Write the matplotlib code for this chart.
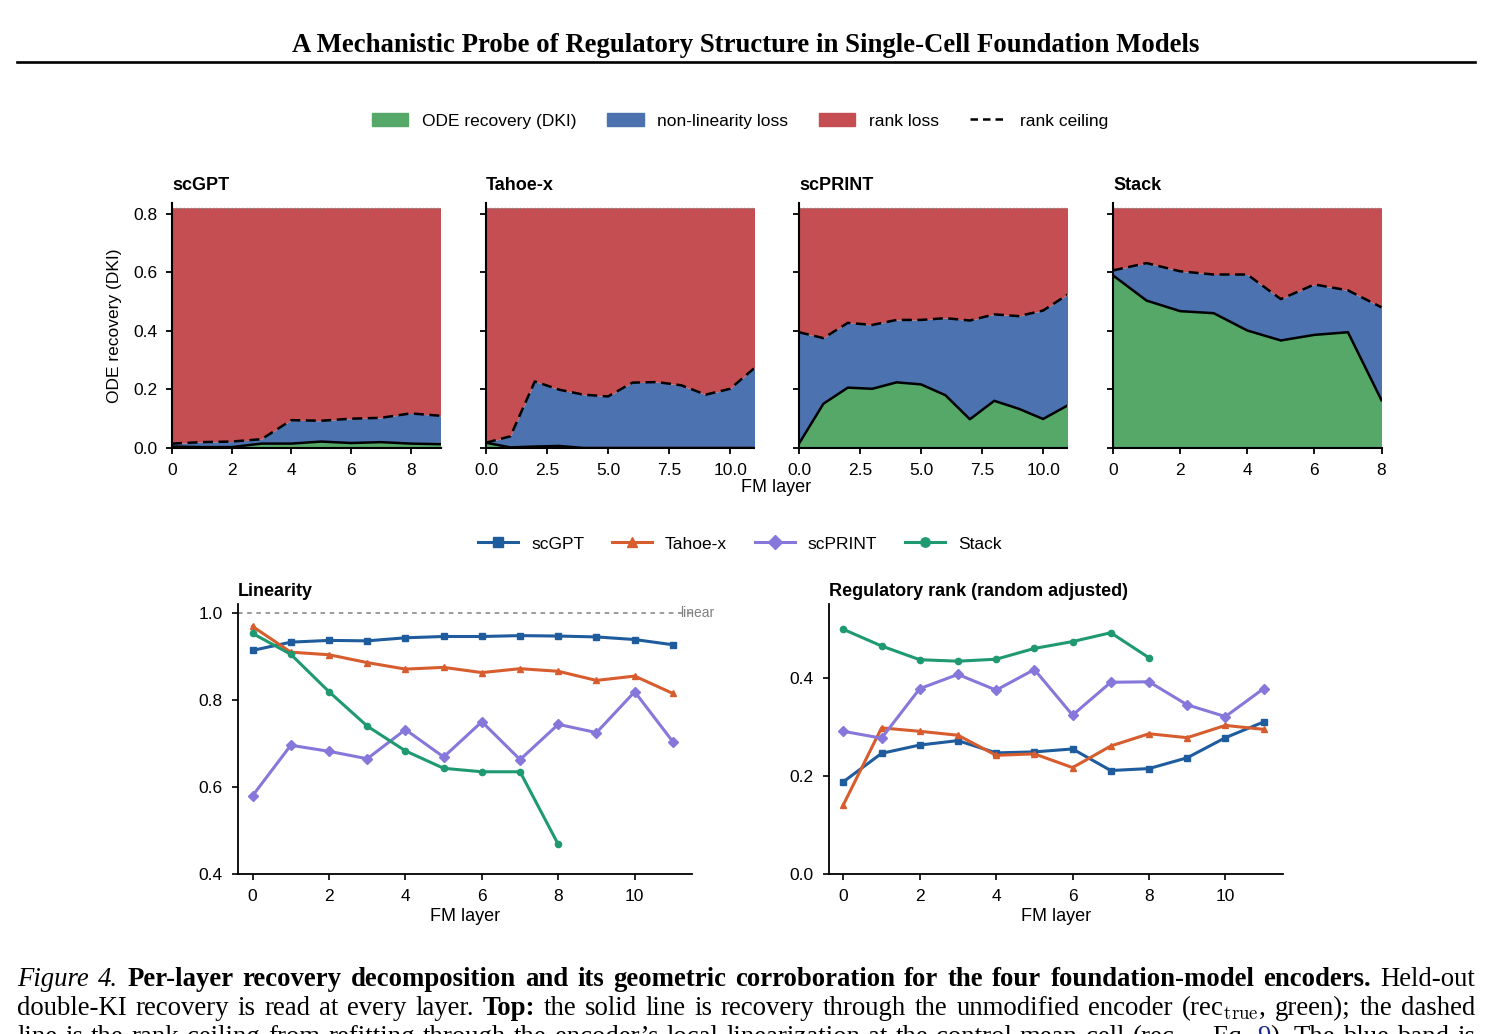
import numpy as np
import matplotlib
matplotlib.use("Agg")
import matplotlib.pyplot as plt
from matplotlib.patches import Patch
from matplotlib.lines import Line2D
from matplotlib.ticker import MultipleLocator

# ---- top row: per-layer recovery decomposition ----
models = ["scGPT", "Tahoe-x", "scPRINT", "Stack"]
ode_max = 0.82  # ODE recovery ceiling (top of red band)

rec_true = {
    "scGPT":   [0.005, 0.003, 0.003, 0.015, 0.015, 0.022, 0.017, 0.020, 0.015, 0.013],
    "Tahoe-x": [0.018, 0.002, 0.005, 0.007, 0.0, 0.0, 0.0, 0.0, 0.0, 0.0, 0.0, 0.0],
    "scPRINT": [0.015, 0.151, 0.206, 0.202, 0.224, 0.217, 0.180, 0.098, 0.161, 0.134, 0.099, 0.145],
    "Stack":   [0.589, 0.503, 0.467, 0.460, 0.401, 0.367, 0.386, 0.395, 0.163],
}
rank_ceiling = {
    "scGPT":   [0.015, 0.020, 0.022, 0.030, 0.095, 0.093, 0.100, 0.103, 0.118, 0.110],
    "Tahoe-x": [0.018, 0.040, 0.227, 0.199, 0.182, 0.176, 0.223, 0.225, 0.214, 0.182, 0.202, 0.273],
    "scPRINT": [0.395, 0.375, 0.427, 0.420, 0.437, 0.437, 0.443, 0.435, 0.456, 0.450, 0.469, 0.523],
    "Stack":   [0.606, 0.631, 0.603, 0.592, 0.592, 0.508, 0.558, 0.538, 0.480],
}

# ---- bottom row: geometry per layer ----
linearity = {
    "scGPT":   [0.914, 0.933, 0.937, 0.936, 0.943, 0.946, 0.946, 0.948, 0.947, 0.945, 0.939, 0.927],
    "Tahoe-x": [0.969, 0.910, 0.904, 0.886, 0.871, 0.875, 0.863, 0.872, 0.866, 0.845, 0.855, 0.815],
    "scPRINT": [0.580, 0.696, 0.682, 0.665, 0.732, 0.669, 0.750, 0.663, 0.744, 0.725, 0.819, 0.704],
    "Stack":   [0.953, 0.905, 0.819, 0.740, 0.683, 0.643, 0.635, 0.635, 0.468],
}
reg_rank = {
    "scGPT":   [0.188, 0.246, 0.263, 0.272, 0.247, 0.249, 0.255, 0.211, 0.215, 0.237, 0.278, 0.310],
    "Tahoe-x": [0.141, 0.298, 0.291, 0.283, 0.242, 0.245, 0.217, 0.261, 0.286, 0.278, 0.303, 0.295],
    "scPRINT": [0.291, 0.277, 0.378, 0.407, 0.375, 0.417, 0.324, 0.391, 0.392, 0.345, 0.321, 0.378],
    "Stack":   [0.499, 0.465, 0.437, 0.434, 0.438, 0.460, 0.474, 0.492, 0.441],
}

line_colors = {"scGPT": "#1f5c9e", "Tahoe-x": "#d75c2e", "scPRINT": "#8678db", "Stack": "#1f9a70"}
line_markers = {"scGPT": "s", "Tahoe-x": "^", "scPRINT": "D", "Stack": "o"}
c_green, c_blue, c_red = "#55a868", "#4c72b0", "#c44e52"

W, H = 1493, 1034
plt.rcParams["font.family"] = ["Liberation Sans", "DejaVu Sans"]
plt.rcParams["mathtext.fontset"] = "cm"
plt.rcParams["font.size"] = 12

fig = plt.figure(figsize=(W / 100, H / 100), dpi=100)


def rect(l, r, top, bot):
    return [l / W, (H - bot) / H, (r - l) / W, (bot - top) / H]


# header
fig.text(746 / W, 1 - 52 / H, "A Mechanistic Probe of Regulatory Structure in Single-Cell Foundation Models",
         ha="center", va="baseline", family="Liberation Serif", fontweight="bold", fontsize=19.3)
fig.add_artist(Line2D([17 / W, 1475 / W], [1 - 61.5 / H] * 2, color="black", lw=1.9))

# top row
top_lefts = [172, 486, 799, 1113]
top_axes = []
for i, m in enumerate(models):
    ax = fig.add_axes(rect(top_lefts[i], top_lefts[i] + 268.5, 203, 448))
    true = np.array(rec_true[m])
    ceil = np.array(rank_ceiling[m])
    x = np.arange(len(true))
    ax.fill_between(x, 0, true, color=c_green, lw=0)
    ax.fill_between(x, true, ceil, color=c_blue, lw=0)
    ax.fill_between(x, ceil, ode_max, color=c_red, lw=0)
    ax.plot(x, true, color="black", lw=1.8)
    ax.plot(x, ceil, color="black", lw=1.8, ls=(0, (4, 2.2)))
    ax.axhline(ode_max, color="gray", lw=1, ls=":")
    ax.set_xlim(0, len(true) - 1)
    ax.set_ylim(0, 0.836)
    ax.set_yticks([0.0, 0.2, 0.4, 0.6, 0.8])
    ax.xaxis.set_major_locator(MultipleLocator(2.5 if len(true) > 11 else 2))
    if i > 0:
        ax.tick_params(labelleft=False)
    for s in ["top", "right"]:
        ax.spines[s].set_visible(False)
    for s in ["left", "bottom"]:
        ax.spines[s].set_linewidth(1.5)
    ax.tick_params(width=1.3, length=4, labelsize=12.5, pad=6.5)
    ax.set_title(m, loc="left", fontweight="bold", fontsize=13, pad=9)
    top_axes.append(ax)

top_axes[0].set_ylabel("ODE recovery (DKI)", fontsize=12.5)
top_axes[0].yaxis.set_label_coords(-0.185, 0.5)
fig.text(776 / W, 1 - 487 / H, "FM layer", ha="center", va="center", fontsize=13)

top_handles = [Patch(color=c_green, label="ODE recovery (DKI)"),
               Patch(color=c_blue, label="non-linearity loss"),
               Patch(color=c_red, label="rank loss"),
               Line2D([], [], color="black", lw=1.8, ls=(0, (3, 2)), label="rank ceiling")]
fig.legend(handles=top_handles, loc="center", bbox_to_anchor=(740 / W, 1 - 121 / H), ncol=4,
           frameon=False, fontsize=12.5, handlelength=2.1, handleheight=0.75,
           handletextpad=0.8, columnspacing=1.75)

# bottom row
ax_lin = fig.add_axes(rect(237.7, 692, 604.3, 874))
ax_reg = fig.add_axes(rect(829, 1282.7, 604.3, 874))
for m in models:
    for ax, d in [(ax_lin, linearity), (ax_reg, reg_rank)]:
        y = d[m]
        ax.plot(np.arange(len(y)), y, color=line_colors[m], marker=line_markers[m],
                ms=4.5 if line_markers[m] != "D" else 5, lw=2.2, label=m)

ax_lin.axhline(1.0, color="gray", lw=1.1, ls=(0, (3, 3)), zorder=0)
ax_lin.text(11.2, 1.0, "linear", color="gray", fontsize=10, va="center", ha="left", clip_on=False)
ax_lin.set_xlim(-0.39, 11.5)
ax_lin.set_ylim(0.4, 1.02)
ax_lin.set_yticks([0.4, 0.6, 0.8, 1.0])
ax_reg.set_xlim(-0.375, 11.5)
ax_reg.set_ylim(0, 0.55)
ax_reg.set_yticks([0.0, 0.2, 0.4])
for ax, t in [(ax_lin, "Linearity"), (ax_reg, "Regulatory rank (random adjusted)")]:
    ax.set_xticks([0, 2, 4, 6, 8, 10])
    for s in ["top", "right"]:
        ax.spines[s].set_visible(False)
    for s in ["left", "bottom"]:
        ax.spines[s].set_linewidth(1.3)
    ax.tick_params(width=1.2, length=4, labelsize=12.5, pad=7)
    ax.set_title(t, loc="left", fontweight="bold", fontsize=13, pad=6)
    ax.set_xlabel("FM layer", fontsize=13, labelpad=3)

h, l = ax_lin.get_legend_handles_labels()
fig.legend(h, l, loc="center", bbox_to_anchor=(740 / W, 1 - 544 / H), ncol=4, frameon=False,
           fontsize=12.5, handlelength=2.3, handletextpad=0.75, columnspacing=1.6, markerscale=1.5)

# caption, justified word by word
renderer = fig.canvas.get_renderer()
style_kw = {"normal": {}, "bold": {"fontweight": "bold"}, "italic": {"fontstyle": "italic"}}


def words(s, style="normal", color="black"):
    return [(w, style, color, False) for w in s.split(" ")]


def caption_line(tokens, y_px, x0=17, x1=1475, size=19.3):
    texts = []
    for w, style, color, _ in tokens:
        texts.append(fig.text(0, 1 - y_px / H, w, va="baseline", ha="left", color=color,
                              family="Liberation Serif", fontsize=size, **style_kw[style]))
    widths = [t.get_window_extent(renderer).width for t in texts]
    n_gaps = sum(1 for k, tok in enumerate(tokens) if k > 0 and not tok[3])
    gap = (x1 - x0 - sum(widths)) / max(n_gaps, 1)
    x = x0
    for k, (t, wd) in enumerate(zip(texts, widths)):
        if k > 0 and not tokens[k][3]:
            x += gap
        t.set_x(x / W)
        x += wd


caption_line(words("Figure 4.", "italic")
             + words("Per-layer recovery decomposition and its geometric corroboration for the four "
                     "foundation-model encoders.", "bold")
             + words("Held-out"), 986)
caption_line(words("double-KI recovery is read at every layer.") + words("Top:", "bold")
             + words(r"the solid line is recovery through the unmodified encoder (rec$_{\mathrm{true}}$, "
                     "green); the dashed"), 1015)
caption_line(words("line is the rank ceiling from refitting through the encoder\u2019s local linearization "
                   r"at the control mean cell (rec$_{\mathrm{lin}}$, Eq.")
             + [("9", "normal", "#1a2a8a", False), (").", "normal", "black", True)]
             + words("The blue band is"), 1044)

fig.savefig("out.png", dpi=100)
